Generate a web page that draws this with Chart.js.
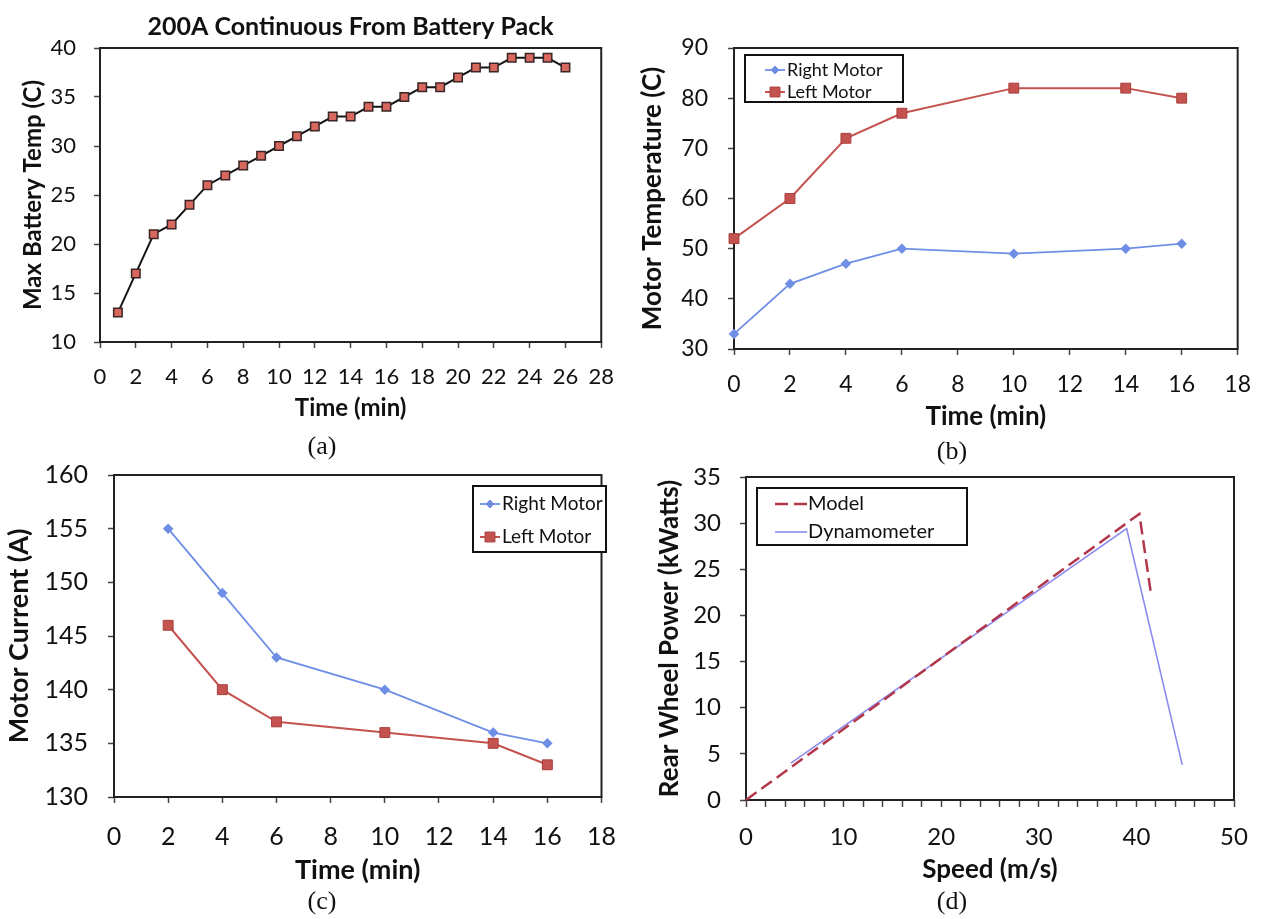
<!DOCTYPE html>
<html>
<head>
<meta charset="utf-8">
<script src="https://cdn.jsdelivr.net/npm/chart.js@4.4.1/dist/chart.umd.min.js"></script>
<style>
  body { margin: 0; background: #fff; width: 1267px; height: 919px; position: relative; overflow: hidden; }
  canvas { position: absolute; }
  .cap { position: absolute; font-family: "Liberation Serif", serif; font-size: 26px; color: #111; transform: translate(-50%, -50%); }
</style>
</head>
<body>
<canvas id="ca" width="630" height="425" style="left:0;top:0"></canvas>
<canvas id="cb" width="637" height="436" style="left:630px;top:0"></canvas>
<canvas id="cc" width="635" height="450" style="left:0;top:440px"></canvas>
<canvas id="cd" width="637" height="450" style="left:630px;top:440px"></canvas>
<div class="cap" style="left:322px;top:446px">(a)</div>
<div class="cap" style="left:952px;top:451px">(b)</div>
<div class="cap" style="left:322px;top:901px">(c)</div>
<div class="cap" style="left:952px;top:901px">(d)</div>
<script>
// (a) battery temperature, 200A continuous
const battTime = [1,2,3,4,5,6,7,8,9,10,11,12,13,14,15,16,17,18,19,20,21,22,23,24,25,26];
const battTemp = [13,17,21,22,24,26,27,28,29,30,31,32,33,33,34,34,35,36,36,37,38,38,39,39,39,38];

// (b) motor temperature
const tempTime = [0,2,4,6,10,14,16];
const rightTemp = [33,43,47,50,49,50,51];
const leftTemp = [52,60,72,77,82,82,80];

// (c) motor current
const currTime = [2,4,6,10,14,16];
const rightCurr = [155,149,143,140,136,135];
const leftCurr = [146,140,137,136,135,133];

// (d) rear wheel power vs speed
const modelSpeed = [0,40.3,41.5];
const modelPower = [0,31,22.3];
const dynoSpeed = [4.6,39.0,44.7];
const dynoPower = [4.0,29.4,3.8];

const FONT = 'Lato, "Open Sans", sans-serif';
const RED = '#c4534f';
const BLUE = '#6f8fe6';

const pts = (xs, ys) => xs.map((x, i) => ({x: x, y: ys[i]}));

// box round the plot area
const frame = {
  id: 'frame',
  beforeDatasetsDraw(chart) {
    const {ctx, chartArea: a} = chart;
    ctx.save();
    ctx.strokeStyle = '#222';
    ctx.lineWidth = 2;
    ctx.strokeRect(a.left, a.top, a.right - a.left, a.bottom - a.top);
    ctx.restore();
  }
};

function marker(ctx, style, r, x, y) {
  ctx.beginPath();
  if (style === 'rectRot') {
    ctx.moveTo(x, y - r); ctx.lineTo(x + r, y); ctx.lineTo(x, y + r); ctx.lineTo(x - r, y);
  } else {
    const s = r * Math.SQRT1_2;
    ctx.rect(x - s, y - s, 2 * s, 2 * s);
  }
  ctx.closePath();
  ctx.fill();
  ctx.stroke();
}

// legend drawn in a box inside the plot, like the spreadsheet one
const boxLegend = {
  id: 'boxLegend',
  afterDraw(chart, args, o) {
    if (!o.box) return;
    const ctx = chart.ctx;
    const [x, y, w, h] = o.box;
    ctx.save();
    ctx.fillStyle = '#fff';
    ctx.fillRect(x, y, w, h);
    ctx.strokeStyle = '#111';
    ctx.lineWidth = 2;
    ctx.strokeRect(x, y, w, h);
    chart.data.datasets.forEach((ds, i) => {
      const cy = y + o.rows[i];
      const x0 = x + o.line[0], x1 = x + o.line[1];
      ctx.strokeStyle = ds.borderColor;
      ctx.lineWidth = ds.borderWidth;
      ctx.setLineDash(ds.borderDash || []);
      ctx.beginPath(); ctx.moveTo(x0, cy); ctx.lineTo(x1, cy); ctx.stroke();
      ctx.setLineDash([]);
      if (ds.pointRadius) {
        ctx.fillStyle = ds.pointBackgroundColor;
        ctx.strokeStyle = ds.pointBorderColor;
        ctx.lineWidth = 1;
        marker(ctx, ds.pointStyle, ds.pointRadius, (x0 + x1) / 2, cy);
      }
      ctx.fillStyle = '#111';
      ctx.font = o.font;
      ctx.textBaseline = 'middle';
      ctx.fillText(ds.label, x + o.textX, cy);
    });
    ctx.restore();
  }
};

function xAxis(min, max, step, title, o) {
  return {
    type: 'linear', min: min, max: max,
    afterFit: s => { s.height = o.h; },
    border: { display: false },
    grid: { drawOnChartArea: false, tickLength: o.tl || 6, color: '#444', tickWidth: 1.5 },
    ticks: { stepSize: step, autoSkip: false, maxRotation: 0, padding: o.pad, color: '#111',
             font: { family: FONT, size: o.fs }, callback: o.cb || (v => v) },
    title: { display: true, text: title, color: '#111', font: { family: FONT, size: o.tfs, weight: 'bold' },
             padding: { top: 0, bottom: o.tpad } }
  };
}

function yAxis(min, max, step, title, o) {
  return {
    type: 'linear', min: min, max: max,
    afterFit: s => { s.width = o.w; },
    border: { display: false },
    grid: { drawOnChartArea: false, tickLength: 6, color: '#444', tickWidth: 1.5 },
    ticks: { stepSize: step, padding: o.pad, color: '#111', font: { family: FONT, size: o.fs }, callback: v => v },
    title: { display: true, text: title, color: '#111', font: { family: FONT, size: o.tfs, weight: 'bold' },
             padding: { top: o.tpad, bottom: 0 } }
  };
}

function baseOptions(pad) {
  return {
    responsive: false, animation: false, devicePixelRatio: 1,
    layout: { padding: pad },
    elements: { line: { tension: 0 } },
    plugins: { legend: { display: false }, tooltip: { enabled: false } }
  };
}

// (a)
const optA = baseOptions({ left: 0, right: 26, top: 0, bottom: 0 });
optA.plugins.title = {
  display: true, fullSize: false, text: '200A Continuous From Battery Pack', color: '#111',
  font: { family: FONT, size: 25, weight: 'bold' }, padding: { top: 12, bottom: 6 }
};
optA.scales = {
  x: xAxis(0, 28, 2, 'Time (min)', { h: 83, pad: 16, fs: 22, tfs: 24, tpad: 2.6 }),
  y: yAxis(10, 40, 5, 'Max Battery Temp (C)', { w: 100, pad: 18, fs: 22, tfs: 24, tpad: 18.6 })
};
new Chart(document.getElementById('ca'), {
  type: 'line',
  data: { datasets: [{
    label: 'Max Battery Temp', data: pts(battTime, battTemp), clip: false,
    borderColor: '#151515', borderWidth: 2,
    pointStyle: 'rect', pointRadius: 6, pointBackgroundColor: '#d8675e', pointBorderColor: '#3a2626', pointBorderWidth: 1.5
  }]},
  options: optA,
  plugins: [frame]
});

// (b)
const optB = baseOptions({ left: 0, right: 17, top: 48, bottom: 0 });
optB.scales = {
  x: xAxis(0, 18, 2, 'Time (min)', { h: 87, pad: 16, fs: 23, tfs: 26, tpad: 3.4 }),
  y: yAxis(30, 90, 10, 'Motor Temperature (C)', { w: 104, pad: 20, fs: 23, tfs: 26, tpad: 7.4 })
};
optB.plugins.boxLegend = { box: [115, 55, 158, 47], rows: [15, 37], line: [20, 40], textX: 42, font: '18px ' + FONT };
new Chart(document.getElementById('cb'), {
  type: 'line',
  data: { datasets: [{
    label: 'Right Motor', data: pts(tempTime, rightTemp), clip: false,
    borderColor: BLUE, borderWidth: 1.8,
    pointStyle: 'rectRot', pointRadius: 4, pointBackgroundColor: BLUE, pointBorderColor: BLUE
  }, {
    label: 'Left Motor', data: pts(tempTime, leftTemp), clip: false,
    borderColor: RED, borderWidth: 2,
    pointStyle: 'rect', pointRadius: 7, pointBackgroundColor: RED, pointBorderColor: '#a93f3d', pointBorderWidth: 1
  }]},
  options: optB,
  plugins: [frame, boxLegend]
});

// (c)
const optC = baseOptions({ left: 0, right: 20, top: 33, bottom: 0 });
optC.scales = {
  x: xAxis(0, 18, 2, 'Time (min)', { h: 93, pad: 19, fs: 25, tfs: 27, tpad: 3.8 }),
  y: yAxis(130, 160, 5, 'Motor Current (A)', { w: 114, pad: 20, fs: 25, tfs: 27, tpad: 2.8 })
};
optC.plugins.boxLegend = { box: [473, 46, 133, 66], rows: [18, 51], line: [7, 27], textX: 29, font: '19px ' + FONT };
new Chart(document.getElementById('cc'), {
  type: 'line',
  data: { datasets: [{
    label: 'Right Motor', data: pts(currTime, rightCurr), clip: false,
    borderColor: BLUE, borderWidth: 1.8,
    pointStyle: 'rectRot', pointRadius: 4, pointBackgroundColor: BLUE, pointBorderColor: BLUE
  }, {
    label: 'Left Motor', data: pts(currTime, leftCurr), clip: false,
    borderColor: RED, borderWidth: 2,
    pointStyle: 'rect', pointRadius: 7, pointBackgroundColor: RED, pointBorderColor: '#a93f3d', pointBorderWidth: 1
  }]},
  options: optC,
  plugins: [frame, boxLegend]
});

// (d)
const optD = baseOptions({ left: 0, right: 33, top: 37, bottom: 0 });
optD.scales = {
  x: xAxis(0, 50, 2, 'Speed (m/s)', { h: 90, tl: 7, pad: 15.6, fs: 24, tfs: 26, tpad: 4.4, cb: v => (v % 10 === 0 ? v : '') }),
  y: yAxis(0, 35, 5, 'Rear Wheel Power (kWatts)', { w: 116, pad: 19, fs: 24, tfs: 26, tpad: 24.4 })
};
optD.plugins.boxLegend = { box: [127, 48, 210, 57], rows: [16, 44], line: [18, 50], textX: 51, font: '20px ' + FONT };
new Chart(document.getElementById('cd'), {
  type: 'line',
  data: { datasets: [{
    label: 'Model', data: pts(modelSpeed, modelPower), clip: false,
    borderColor: '#b2374b', borderWidth: 2.5, borderDash: [13, 6], pointRadius: 0
  }, {
    label: 'Dynamometer', data: pts(dynoSpeed, dynoPower), clip: false,
    borderColor: '#8b8bee', borderWidth: 1.6, pointRadius: 0
  }]},
  options: optD,
  plugins: [frame, boxLegend]
});
</script>
</body>
</html>
